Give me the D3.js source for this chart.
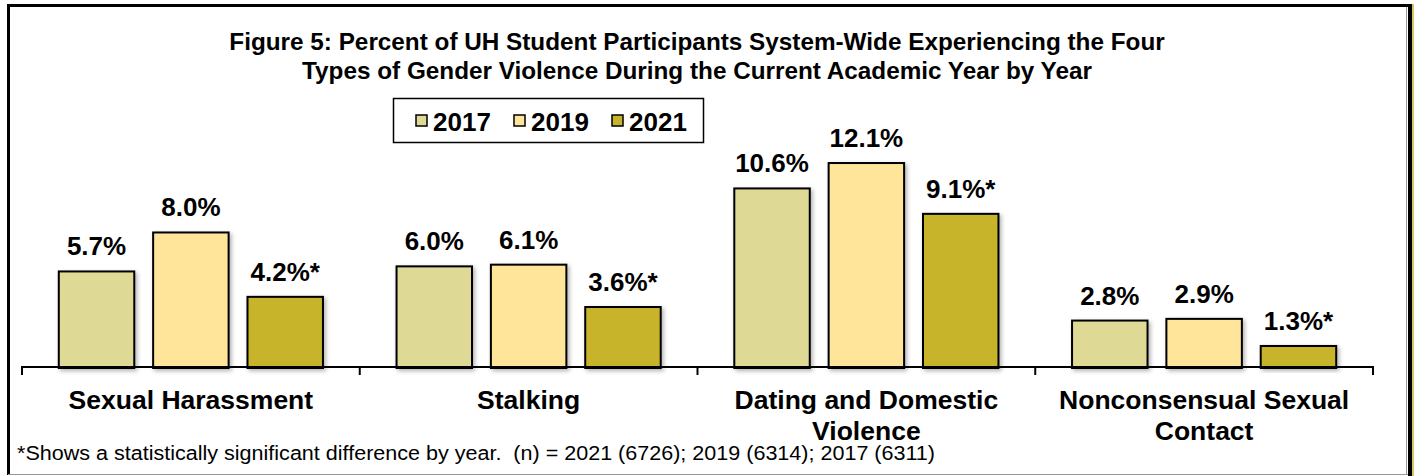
<!DOCTYPE html>
<html>
<head>
<meta charset="utf-8">
<script src="https://cdn.jsdelivr.net/npm/d3@7"></script>
<style>
  html, body { margin: 0; padding: 0; background: #fff; }
  svg text { font-family: Arial, "Liberation Sans", sans-serif; fill: #000; }
</style>
</head>
<body>
<svg id="chart" width="1416" height="476"></svg>
<script>

// Chart data
const categories = ["Sexual Harassment", "Stalking", "Dating and Domestic Violence", "Nonconsensual Sexual Contact"];
const categoryLines = [["Sexual Harassment"], ["Stalking"], ["Dating and Domestic", "Violence"], ["Nonconsensual Sexual", "Contact"]];
const years = ["2017", "2019", "2021"];
const values2017 = [5.7, 6.0, 10.6, 2.8];
const values2019 = [8.0, 6.1, 12.1, 2.9];
const values2021 = [4.2, 3.6, 9.1, 1.3];
const significantYears = ["2021"];
const titleLines = [
	"Figure 5: Percent of UH Student Participants System-Wide Experiencing the Four",
	"Types of Gender Violence During the Current Academic Year by Year"
];
const footnote = "*Shows a statistically significant difference by year.  (n) = 2021 (6726); 2019 (6314); 2017 (6311)";

const colors = { "2017": "#DED995", "2019": "#FFE599", "2021": "#C8B42A" };

// Build rows
const seriesValues = { "2017": values2017, "2019": values2019, "2021": values2021 };
const rows = categories.map((c, i) => ({
	category: c,
	lines: categoryLines[i],
	bars: years.map(y => ({ year: y, value: seriesValues[y][i] }))
}));

const svg = d3.select("#chart"),
	width = +svg.attr("width"),
	height = +svg.attr("height");

// Shadow filter
const defs = svg.append("defs");
defs.append("filter")
	.attr("id", "shadow")
	.attr("x", "-10%").attr("y", "-10%")
	.attr("width", "130%").attr("height", "130%")
	.append("feDropShadow")
	.attr("dx", 2).attr("dy", 2)
	.attr("stdDeviation", 2)
	.attr("flood-color", "#000")
	.attr("flood-opacity", 0.3);

// Frame
svg.append("line").attr("x1", 7).attr("x2", 1408).attr("y1", 5.5).attr("y2", 5.5)
	.attr("stroke", "#000").attr("stroke-width", 3);
svg.append("line").attr("x1", 8.5).attr("x2", 8.5).attr("y1", 4).attr("y2", 475)
	.attr("stroke", "#000").attr("stroke-width", 3);
svg.append("line").attr("x1", 8).attr("x2", 1408).attr("y1", 474.5).attr("y2", 474.5)
	.attr("stroke", "#999").attr("stroke-width", 1);
svg.append("line").attr("x1", 1406.5).attr("x2", 1406.5).attr("y1", 7).attr("y2", 475)
	.attr("stroke", "#999").attr("stroke-width", 1);
svg.append("line").attr("x1", 1410).attr("x2", 1410).attr("y1", 4).attr("y2", 476)
	.attr("stroke", "#000").attr("stroke-width", 4);
svg.append("line").attr("x1", 1413).attr("x2", 1413).attr("y1", 4).attr("y2", 476)
	.attr("stroke", "#C8B42A").attr("stroke-width", 1.5);

// Scales
const x0 = d3.scaleBand()
	.domain(categories)
	.range([22, 1373])
	.padding(0);

const x1 = d3.scaleBand()
	.domain(years)
	.range([0, x0.bandwidth()])
	.paddingInner(0.2)
	.paddingOuter(0.39);

const y = d3.scaleLinear()
	.domain([0, 14])
	.range([368, 368 - 14 * 16.94]);

// Title
svg.append("text")
	.attr("x", 697)
	.attr("text-anchor", "middle")
	.style("font-size", "24.3px")
	.style("font-weight", "bold")
	.selectAll("tspan")
	.data(titleLines)
	.join("tspan")
	.attr("x", 697)
	.attr("y", (d, i) => 50 + i * 29)
	.text(d => d);

// Legend
const legend = svg.append("g").attr("class", "legend");
legend.append("rect")
	.attr("x", 393.5).attr("y", 98.5)
	.attr("width", 310).attr("height", 44)
	.attr("fill", "#fff")
	.attr("stroke", "#000")
	.attr("stroke-width", 1.5);

const legendItem = legend.selectAll("g.item")
	.data(years)
	.join("g")
	.attr("class", "item")
	.attr("transform", (d, i) => `translate(${416 + i * 98}, 0)`);

legendItem.append("rect")
	.attr("x", 0).attr("y", 115)
	.attr("width", 11).attr("height", 11)
	.attr("fill", d => colors[d])
	.attr("stroke", "#000")
	.attr("stroke-width", 1.5);

legendItem.append("text")
	.attr("x", 17).attr("y", 131)
	.style("font-size", "26px")
	.style("font-weight", "bold")
	.text(d => d);

// Bars
const group = svg.append("g")
	.attr("class", "groups")
	.selectAll("g")
	.data(rows)
	.join("g")
	.attr("transform", d => `translate(${x0(d.category)}, 0)`);

group.selectAll("rect")
	.data(d => d.bars)
	.join("rect")
	.attr("x", d => x1(d.year))
	.attr("width", x1.bandwidth())
	.attr("y", d => y(d.value))
	.attr("height", d => y(0) - y(d.value))
	.attr("fill", d => colors[d.year])
	.attr("stroke", "#000")
	.attr("stroke-width", 2)
	.attr("filter", "url(#shadow)");

// Value labels
group.selectAll("text.value")
	.data(d => d.bars)
	.join("text")
	.attr("class", "value")
	.attr("x", d => x1(d.year) + x1.bandwidth() / 2)
	.attr("y", d => y(d.value) - 16)
	.attr("text-anchor", "middle")
	.style("font-size", "26px")
	.style("font-weight", "bold")
	.text(d => d.value.toFixed(1) + "%" + (significantYears.includes(d.year) ? "*" : ""));

// Axis
const axis = svg.append("g").attr("class", "axis");
axis.append("line")
	.attr("x1", x0.range()[0]).attr("x2", x0.range()[1])
	.attr("y1", 367).attr("y2", 367)
	.attr("stroke", "#000").attr("stroke-width", 2);

const tickPositions = categories.map(c => x0(c)).concat([x0.range()[1]]);
axis.selectAll("line.tick")
	.data(tickPositions)
	.join("line")
	.attr("class", "tick")
	.attr("x1", d => d).attr("x2", d => d)
	.attr("y1", 366).attr("y2", 375)
	.attr("stroke", "#000").attr("stroke-width", 2);

// Category labels
axis.selectAll("text.cat")
	.data(rows)
	.join("text")
	.attr("class", "cat")
	.attr("text-anchor", "middle")
	.style("font-size", "26.5px")
	.style("font-weight", "bold")
	.selectAll("tspan")
	.data(d => d.lines.map(l => ({ line: l, cx: x0(d.category) + x0.bandwidth() / 2 })))
	.join("tspan")
	.attr("x", d => d.cx)
	.attr("y", (d, i) => 409 + i * 31)
	.text(d => d.line);

// Footnote (condensed to the reference width)
svg.append("text")
	.attr("x", 17)
	.attr("y", 460)
	.attr("textLength", 918)
	.attr("lengthAdjust", "spacingAndGlyphs")
	.style("white-space", "pre")
	.style("font-size", "19.5px")
	.text(footnote);

</script>
</body>
</html>
